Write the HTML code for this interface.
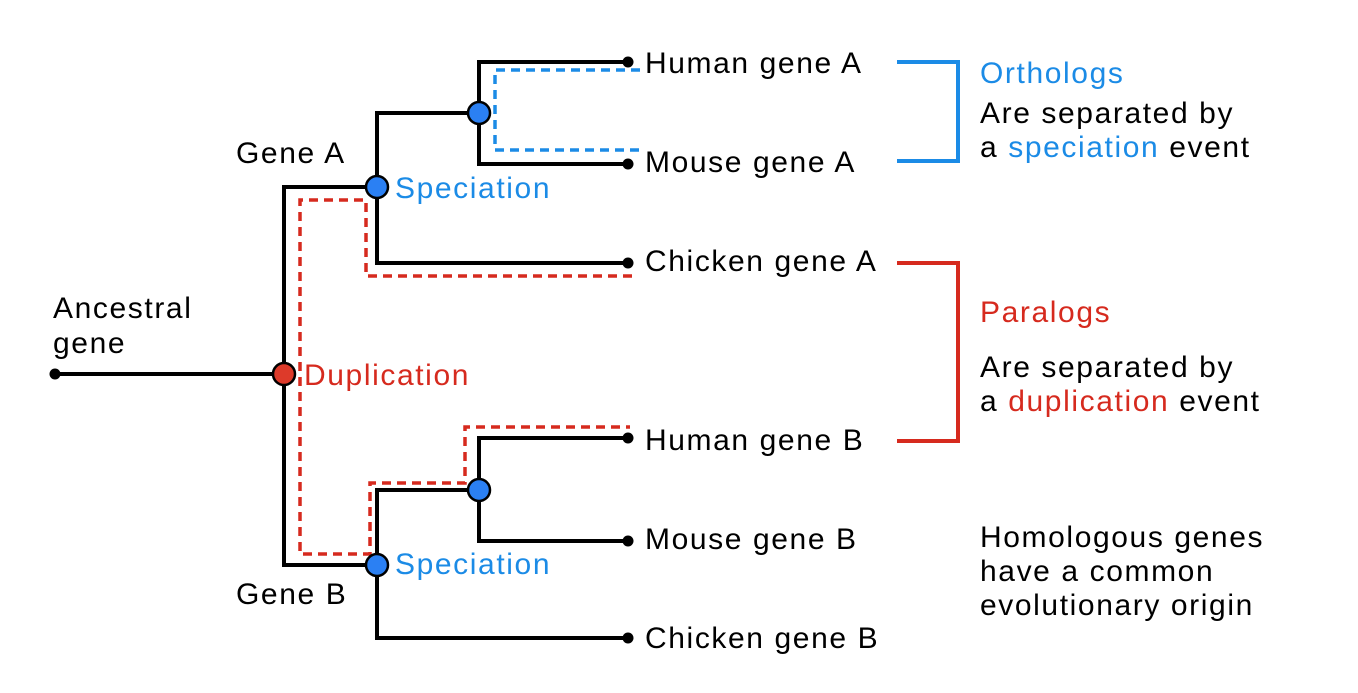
<!DOCTYPE html>
<html><head><meta charset="utf-8"><style>
html,body{margin:0;padding:0;background:#fff;width:1358px;height:693px;overflow:hidden}
svg{display:block}
text{font-family:"Liberation Sans",Arial,sans-serif;font-size:30px;letter-spacing:1.6px}
</style></head><body>
<svg width="1358" height="693" viewBox="0 0 1358 693" xmlns="http://www.w3.org/2000/svg">
<g fill="none" stroke-linecap="butt" stroke-linejoin="miter">
<g stroke="#1b8be6" stroke-width="3.5" stroke-dasharray="9,6">
<polyline points="640,70 495,70 495,150 640,150"/>
</g>
<g stroke="#d62a1e" stroke-width="3.5" stroke-dasharray="9,6">
<polyline points="632,276 366,276 366,200 300,200 300,554 370,554 370,483 465,483 465,427 630,427"/>
</g>
<g stroke="#000" stroke-width="4">
<line x1="55" y1="374" x2="284" y2="374"/>
<polyline points="377,187 284,187 284,565 377,565"/>
<polyline points="628,263 377,263 377,113 479,113"/>
<polyline points="628,62 479,62 479,164 628,164"/>
<polyline points="628,638 377,638 377,490 479,490"/>
<polyline points="628,438 479,438 479,541 628,541"/>
</g>
<polyline points="897,62 958,62 958,161 897,161" stroke="#1b8be6" stroke-width="4"/>
<polyline points="897,263 958,263 958,441 897,441" stroke="#d62a1e" stroke-width="4"/>
</g>
<g fill="#000">
<circle cx="55" cy="374" r="5.5"/>
<circle cx="628" cy="62" r="5.5"/><circle cx="628" cy="164" r="5.5"/>
<circle cx="628" cy="263" r="5.5"/><circle cx="628" cy="438" r="5.5"/>
<circle cx="628" cy="541" r="5.5"/><circle cx="628" cy="638" r="5.5"/>
</g>
<g stroke="#000" stroke-width="2.5">
<circle cx="377" cy="187" r="11" fill="#2b80f3"/>
<circle cx="479" cy="113" r="11" fill="#2b80f3"/>
<circle cx="377" cy="565" r="11" fill="#2b80f3"/>
<circle cx="479" cy="490" r="11" fill="#2b80f3"/>
<circle cx="284" cy="374" r="11" fill="#dd3a2a"/>
</g>
<g fill="#000">
<text x="645" y="73">Human gene A</text>
<text x="645" y="172">Mouse gene A</text>
<text x="645" y="271">Chicken gene A</text>
<text x="645" y="450">Human gene B</text>
<text x="645" y="549">Mouse gene B</text>
<text x="645" y="648">Chicken gene B</text>
<text x="236" y="163">Gene A</text>
<text x="236" y="604">Gene B</text>
<text x="53" y="318">Ancestral</text>
<text x="53" y="353">gene</text>
<text x="980" y="123">Are separated by</text>
<text x="980" y="157">a <tspan fill="#1b8be6">speciation</tspan> event</text>
<text x="980" y="377">Are separated by</text>
<text x="980" y="411">a <tspan fill="#d62a1e">duplication</tspan> event</text>
<text x="980" y="547">Homologous genes</text>
<text x="980" y="581">have a common</text>
<text x="980" y="615">evolutionary origin</text>
</g>
<text x="395" y="198" fill="#1b8be6">Speciation</text>
<text x="395" y="574" fill="#1b8be6">Speciation</text>
<text x="304" y="385" fill="#d62a1e">Duplication</text>
<text x="980" y="83" fill="#1b8be6">Orthologs</text>
<text x="980" y="322" fill="#d62a1e">Paralogs</text>
</svg>
</body></html>
